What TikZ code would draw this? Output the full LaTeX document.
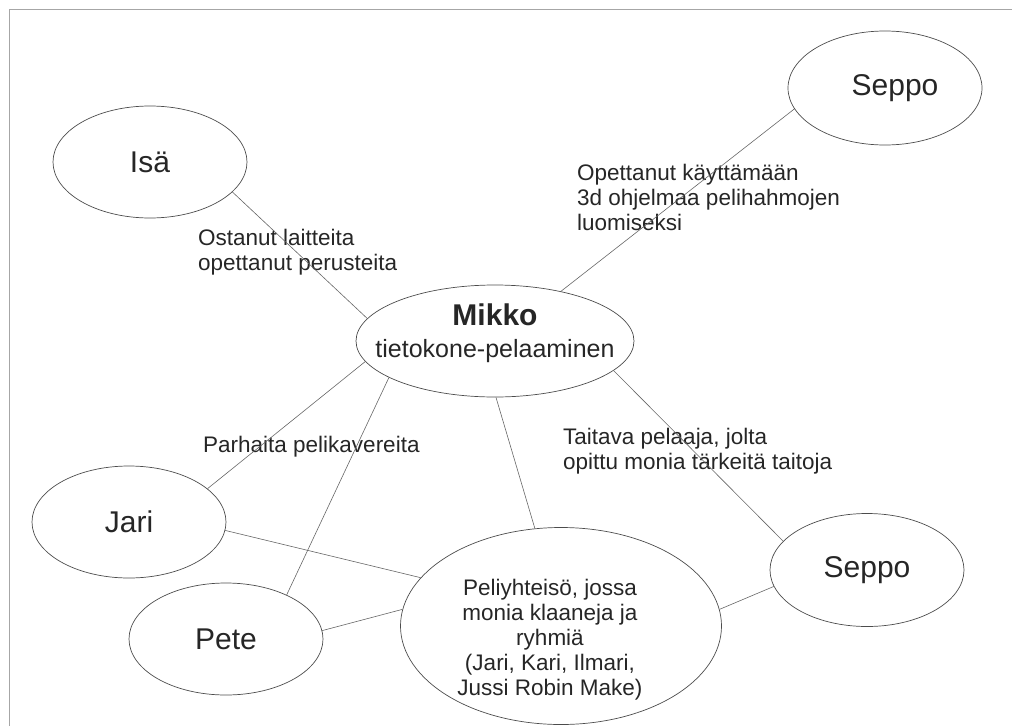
\documentclass[tikz,border=0pt]{standalone}
\usepackage{fontspec}
\setmainfont{Liberation Sans}
\usetikzlibrary{shapes.geometric}

\begin{document}
\begin{tikzpicture}[x=1pt, y=-1pt,
    person/.style={ellipse, draw=black!70, line width=0.7pt, inner sep=0pt, minimum width=194pt, minimum height=112pt, text=black!85, font=\fontsize{30}{34}\selectfont},
    link/.style={draw=black!60, line width=0.6pt},
    note/.style={anchor=base west, align=left, inner sep=0pt, text=black!85, font=\fontsize{22.5}{25}\selectfont}]
    \useasboundingbox (0,0) rectangle (1012,726);
    \draw[black!35, line width=1pt] (9,726) -- (9,9) -- (1012,9);

    \node[person] (isa) at (150,162) {Isä};
    \node[person, minimum height=114pt] (seppo1) at (885,88) {\hspace*{20pt}Seppo};
    \node[person, minimum width=278pt,
        label={[name=mikko-text, align=center, text=black!85, font=\fontsize{25}{32}\selectfont, yshift=8pt]center:{\fontsize{30}{32}\selectfont\bfseries Mikko}\\tietokone-pelaaminen}] (mikko) at (495,341) {};
    \node[person] (jari) at (129,522) {Jari};
    \node[person] (pete) at (226,639) {Pete};
    \node[person, minimum height=113pt] (seppo2) at (867,570) {Seppo};
    \node[person, minimum width=321pt, minimum height=197pt,
        label={[name=peli-text, align=center, text=black!85, font=\fontsize{22.5}{25}\selectfont, xshift=-11pt, yshift=-14pt]center:Peliyhteisö, jossa\\monia klaaneja ja\\ryhmiä\\(Jari, Kari, Ilmari,\\Jussi Robin Make)}] (peli) at (561,626) {};

    % last-line baselines
    \node[note] (ostanut) at (198,270) {Ostanut laitteita\\opettanut perusteita};
    \node[note] (opettanut) at (577,230) {Opettanut käyttämään\\3d ohjelmaa pelihahmojen\\luomiseksi};
    \node[note] (parhaita) at (203,452) {Parhaita pelikavereita};
    \node[note] (taitava) at (563,469) {Taitava pelaaja, jolta\\opittu monia tärkeitä taitoja};

    \draw[link] (isa.-20.5) -- (mikko.170.8);
    \draw[link] (seppo1.-167.9) -- (mikko.37.3);
    \draw[link] (mikko.-171.9) -- (jari.23);
    \draw[link] (mikko.-161.1) -- (pete.36.9);
    \draw[link] (mikko.-89) -- (peli.105.6);
    \draw[link] (mikko.-14.5) -- (seppo2.161.6);
    \draw[link] (jari.-5.3) -- (peli.161.3);
    \draw[link] (pete.5.3) -- (peli.174.6);
    \draw[link] (seppo2.-170.3) -- (peli.6.5);
\end{tikzpicture}
\end{document}
